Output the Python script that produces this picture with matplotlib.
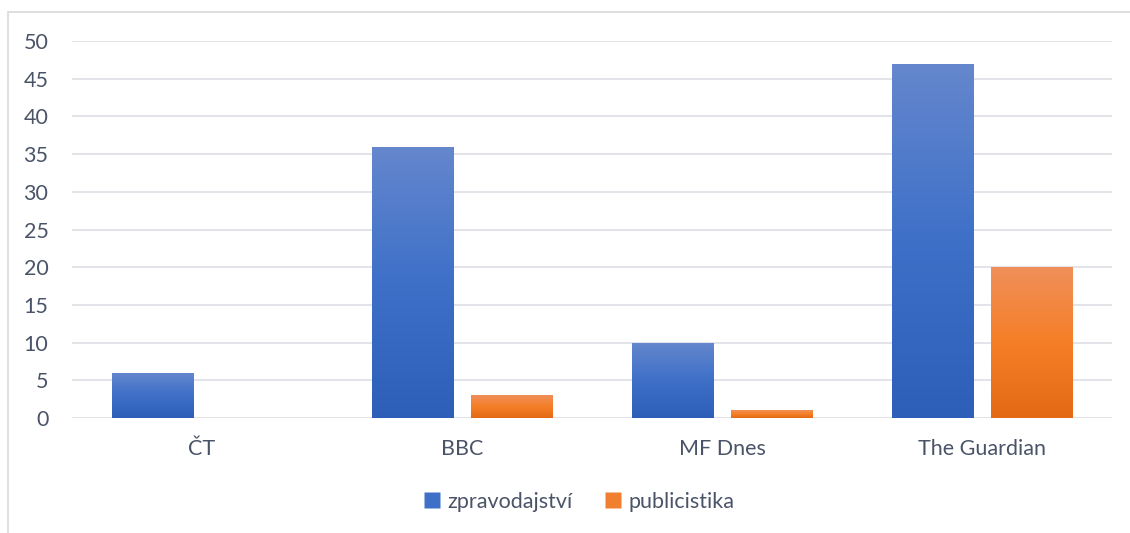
import matplotlib.pyplot as plt
import numpy as np
from matplotlib.colors import LinearSegmentedColormap
from matplotlib.lines import Line2D
from matplotlib.patches import Rectangle

plt.rcParams['font.family'] = ['Lato', 'DejaVu Sans']

categories = ['ČT', 'BBC', 'MF Dnes', 'The Guardian']
zpravodajstvi = [6, 36, 10, 47]
publicistika = [0, 3, 1, 20]
series_names = ['zpravodajství', 'publicistika']
y_ticks = [0, 5, 10, 15, 20, 25, 30, 35, 40, 45, 50]

blue_cmap = LinearSegmentedColormap.from_list('blue', ['#2d5fb8', '#3e70c8', '#6587cd'])
orange_cmap = LinearSegmentedColormap.from_list('orange', ['#e46915', '#f57f27', '#f08f5a'])

fig = plt.figure(figsize=(11.3, 5.33), dpi=100)
ax = fig.add_axes([72 / 1130, 115 / 533, 1040 / 1130, 377 / 533])

# chart border (Excel-like frame)
fig.add_artist(Rectangle((8 / 1130, -0.1), 1.2, (533 - 12) / 533 + 0.1,
                         transform=fig.transFigure, fill=False,
                         edgecolor='#d9d9d9', linewidth=1.2))

x = np.arange(len(categories))
width = 0.312
offset = 0.19


def gradient_bars(xs, vals, cmap):
    bars = ax.bar(xs, vals, width, color='none', edgecolor='none', zorder=3)
    grad = np.linspace(0, 1, 256).reshape(-1, 1)
    for b in bars:
        h = b.get_height()
        if h <= 0:
            continue
        x0 = b.get_x()
        im = ax.imshow(grad, cmap=cmap, origin='lower', aspect='auto',
                       extent=[x0, x0 + b.get_width(), 0, h], zorder=3)
        im.set_clip_path(b)


gradient_bars(x - offset, zpravodajstvi, blue_cmap)
gradient_bars(x + offset, publicistika, orange_cmap)

ax.set_xlim(-0.5, len(categories) - 0.5)
ax.set_ylim(0, 50)
ax.set_yticks(y_ticks)
ax.set_xticks(x)
ax.set_xticklabels(categories)
ax.yaxis.grid(True, color='#dfe2e7', linewidth=1.3, zorder=0)
ax.set_axisbelow(True)
for s in ax.spines.values():
    s.set_visible(False)
ax.tick_params(axis='both', length=0, labelsize=15.5, labelcolor='#4a5468')
ax.tick_params(axis='y', pad=17)
ax.tick_params(axis='x', pad=15)

handles = [
    Line2D([0], [0], marker='s', linestyle='none', markersize=11,
           markerfacecolor='#3e70c8', markeredgecolor='none', label=series_names[0]),
    Line2D([0], [0], marker='s', linestyle='none', markersize=11,
           markerfacecolor='#f07f30', markeredgecolor='none', label=series_names[1]),
]
fig.legend(handles=handles, loc='center', bbox_to_anchor=(579 / 1130, 1 - 502 / 533),
           ncol=2, frameon=False, fontsize=15.5, labelcolor='#4a5468',
           handletextpad=0.3, columnspacing=1.5, handlelength=0.8)

fig.savefig('out.png', dpi=100)
